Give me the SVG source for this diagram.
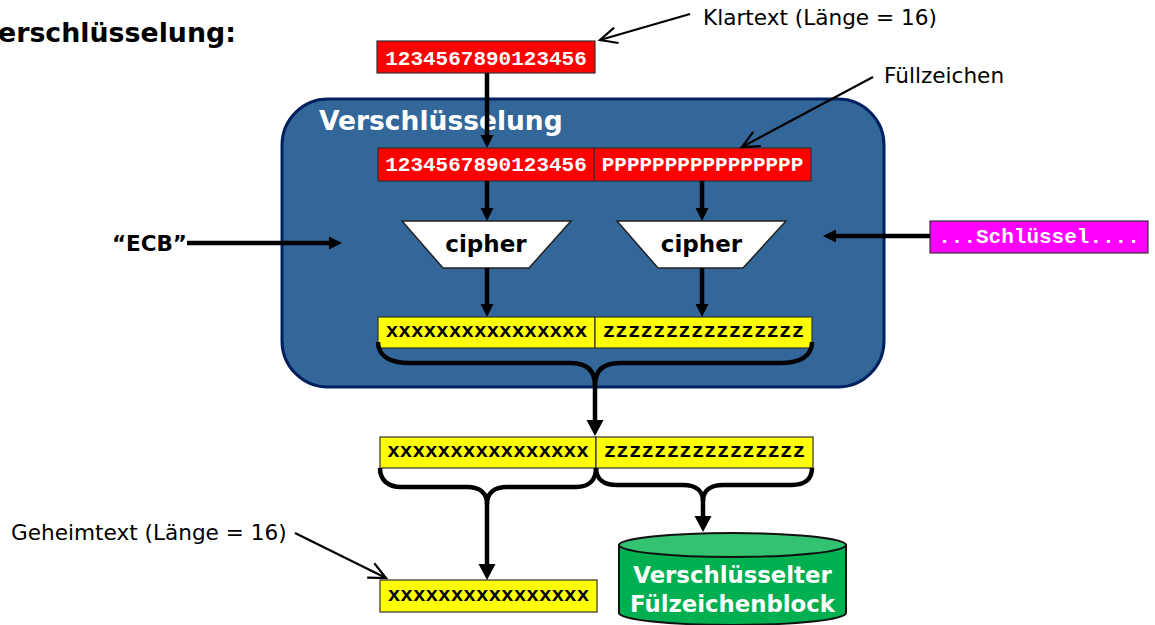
<svg xmlns="http://www.w3.org/2000/svg" width="1155" height="625" viewBox="0 0 1155 625">
<style>
.lbl{font-family:"DejaVu Sans",Verdana,sans-serif;font-size:21.6px;fill:#000}
.bold{font-family:"DejaVu Sans",Verdana,sans-serif;font-weight:bold}
.mono{font-family:"Liberation Mono","Courier New",monospace;font-weight:bold;font-size:21px;text-anchor:middle}
.red{fill:#ff0000;stroke:#333;stroke-width:1.2}
.yel{fill:#ffff00;stroke:#333;stroke-width:1.2}
.mag{fill:#ff00ff;stroke:#333;stroke-width:1.2}
.flow{stroke:#000;stroke-width:4.5;fill:none}
.note{stroke:#000;stroke-width:2.2;fill:none}
.wt{fill:#fff}
.bk{fill:#000}
</style>
<defs>
<marker id="head" markerUnits="userSpaceOnUse" viewBox="0 0 13 13" refX="0" refY="6.5" markerWidth="13" markerHeight="13" orient="auto" overflow="visible"><path d="M0,0 L13,6.5 L0,13 Z" fill="#000"/></marker>
<marker id="headBig" markerUnits="userSpaceOnUse" viewBox="0 0 16 17" refX="0" refY="8.5" markerWidth="16" markerHeight="17" orient="auto" overflow="visible"><path d="M0,0 L16,8.5 L0,17 Z" fill="#000"/></marker>
<marker id="open" markerUnits="userSpaceOnUse" viewBox="-20 -10 22 20" refX="0" refY="0" markerWidth="22" markerHeight="20" orient="auto" overflow="visible"><path d="M-17,-8 L0,0 L-17,8" fill="none" stroke="#000" stroke-width="2.2"/></marker>
</defs>

<rect width="1155" height="625" fill="#fff"/>

<!-- heading -->
<text class="bold" x="-2" y="42" font-size="26.8">erschlüsselung:</text>

<!-- encryption block -->
<g id="block">
  <rect x="282" y="99" width="602" height="288" rx="46" ry="46" fill="#336699" stroke="#002060" stroke-width="3"/>
  <text class="bold wt" x="319" y="130" font-size="26.5">Verschlüsselung</text>
</g>

<!-- plaintext -->
<g id="plaintext">
  <rect class="red" x="377" y="41" width="218" height="32"/>
  <text class="mono wt" x="486" y="64.5">1234567890123456</text>
</g>

<g id="padded">
  <rect class="red" x="378" y="148" width="216" height="33"/>
  <rect class="red" x="594" y="148" width="217" height="33"/>
  <text class="mono wt" x="486" y="171">1234567890123456</text>
  <text class="mono wt" x="702.5" y="171">PPPPPPPPPPPPPPPP</text>
</g>

<g id="cipher1">
  <polygon points="402,221 571,221 529,268 443,268" fill="#fff" stroke="#222" stroke-width="1.5"/>
  <text class="bold bk" x="486" y="252" font-size="23" text-anchor="middle">cipher</text>
</g>
<g id="cipher2">
  <polygon points="617,221 786,221 743,268 658,268" fill="#fff" stroke="#222" stroke-width="1.5"/>
  <text class="bold bk" x="701.5" y="252" font-size="23" text-anchor="middle">cipher</text>
</g>

<g id="encrypted">
  <rect class="yel" x="378" y="317" width="217" height="31"/>
  <rect class="yel" x="595" y="317" width="217" height="31"/>
  <text class="mono bk" x="486.5" y="337">xxxxxxxxxxxxxxxx</text>
  <text class="mono bk" x="703.5" y="337">zzzzzzzzzzzzzzzz</text>
</g>

<g id="output">
  <rect class="yel" x="380" y="437" width="216" height="31"/>
  <rect class="yel" x="596" y="437" width="217" height="31"/>
  <text class="mono bk" x="488" y="457">xxxxxxxxxxxxxxxx</text>
  <text class="mono bk" x="704.5" y="457">zzzzzzzzzzzzzzzz</text>
</g>

<g id="ciphertext">
  <rect class="yel" x="380" y="580" width="217" height="32"/>
  <text class="mono bk" x="488.5" y="600.5">xxxxxxxxxxxxxxxx</text>
</g>

<g id="padblock">
  <path d="M619,545 L619,613 A113.5,12 0 0 0 846,613 L846,545 Z" fill="#00b050" stroke="#111" stroke-width="2"/>
  <ellipse cx="732.5" cy="545" rx="113.5" ry="12" fill="#33c272" stroke="#111" stroke-width="2"/>
  <text class="bold wt" x="732.5" y="583" font-size="22.8" text-anchor="middle">Verschlüsselter</text>
  <text class="bold wt" x="732.5" y="612" font-size="22.8" text-anchor="middle">Fülzeichenblock</text>
</g>

<g id="mode">
  <text class="bold bk" x="187" y="251" font-size="21.5" text-anchor="end">“ECB”</text>
</g>

<g id="key">
  <rect class="mag" x="930" y="221" width="218" height="32"/>
  <text class="mono wt" x="1039" y="243">...Schlüssel....</text>
</g>

<g id="labels">
  <text class="lbl" x="703" y="25">Klartext (Länge = 16)</text>
  <text class="lbl" x="884" y="83">Füllzeichen</text>
  <text class="lbl" x="11" y="540">Geheimtext (Länge = 16)</text>
</g>

<g id="connectors">
  <path class="flow" d="M487,73 V135" marker-end="url(#head)"/>
  <path class="flow" d="M487,181 V208" marker-end="url(#head)"/>
  <path class="flow" d="M702,181 V208" marker-end="url(#head)"/>
  <path class="flow" d="M487,268 V304" marker-end="url(#head)"/>
  <path class="flow" d="M702,268 V304" marker-end="url(#head)"/>
  <path class="flow" d="M187,243 H329" marker-end="url(#head)"/>
  <path class="flow" d="M930,236 H836" marker-end="url(#head)"/>

  <!-- brace joining both encrypted halves -->
  <path class="flow" d="M378,342 C378,356 390,363 410,363 L570,363 C587,363 595,371 595,385 C595,371 603,363 620,363 L780,363 C800,363 812,356 812,342"/>
  <path class="flow" d="M595,383 V420" marker-end="url(#headBig)"/>

  <!-- braces splitting the output -->
  <path class="flow" d="M380,468 C380,480 388,487 401,487 L467,487 C480,487 487,493 487,504 C487,493 494,487 507,487 L576,487 C589,487 596,480 596,468"/>
  <path class="flow" d="M487,502 V564" marker-end="url(#headBig)"/>
  <path class="flow" d="M596,468 C596,479 604,485 617,485 L683,485 C696,485 703,491 703,501 C703,491 710,485 723,485 L792,485 C805,485 812,479 812,468"/>
  <path class="flow" d="M703,499 V516" marker-end="url(#headBig)"/>

  <!-- annotation pointers -->
  <path class="note" d="M690,14 L600,40" marker-end="url(#open)"/>
  <path class="note" d="M873,77 L742,147" marker-end="url(#open)"/>
  <path class="note" d="M295,533 L386,578" marker-end="url(#open)"/>
</g>
</svg>
